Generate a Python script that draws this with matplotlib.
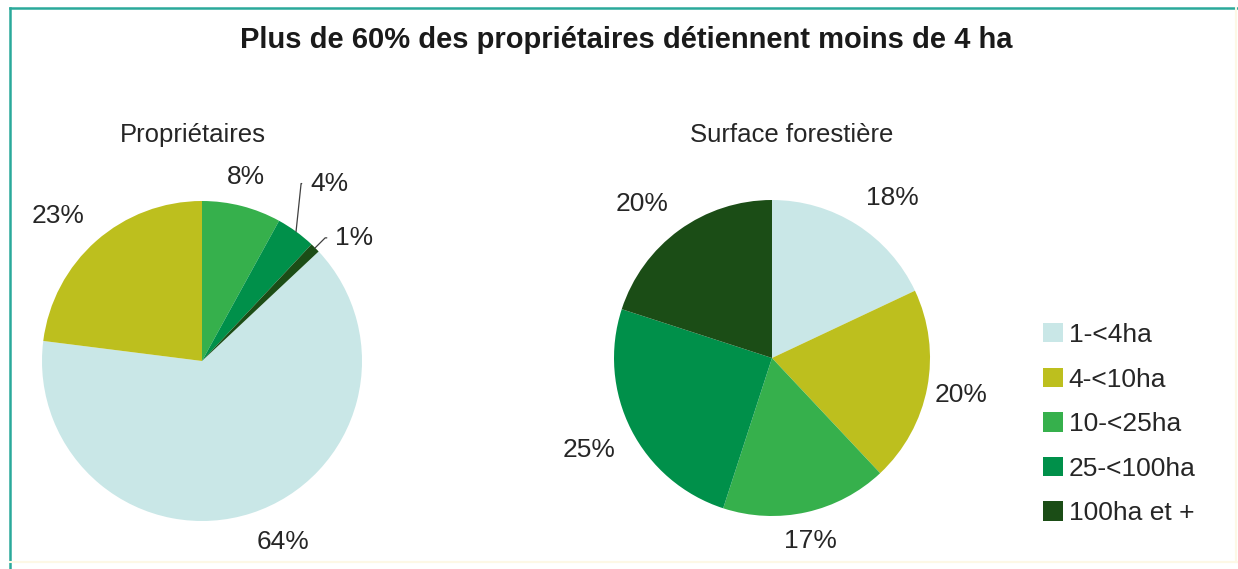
import matplotlib.pyplot as plt
import numpy as np
from matplotlib.lines import Line2D

plt.rcParams['font.family'] = ['Liberation Sans', 'DejaVu Sans']

W, H = 1238, 569

CATEGORIES = ['1-<4ha', '4-<10ha', '10-<25ha', '25-<100ha', '100ha et +']
COLORS = ['#c9e7e7', '#bdbf1e', '#36b04c', '#00904a', '#1b4d16']

PROPRIETAIRES = [64, 23, 8, 4, 1]
SURFACE = [18, 20, 17, 25, 20]

TITLE = 'Plus de 60% des propriétaires détiennent moins de 4 ha'
SUBTITLES = ['Propriétaires', 'Surface forestière']

TXT = '#262626'
FS = 19

fig = plt.figure(figsize=(W / 100, H / 100), dpi=100)
fig.patch.set_facecolor('white')


def pie_axes(cx, cy, half=240):
    # square axes centred on (cx, cy) in pixels, radius 1 -> 160 px
    ax = fig.add_axes([(cx - half) / W, (H - cy - half) / H, 2 * half / W, 2 * half / H])
    ax.axis('off')
    return ax


def fix_limits(ax):
    # pie() resets the limits, put them back so radius 1 = 160 px
    ax.set_xlim(-1.5, 1.5)
    ax.set_ylim(-1.5, 1.5)
    ax.set_aspect('equal')


def outside_labels(ax, wedges, vals, radius, skip=()):
    for i, (w, v) in enumerate(zip(wedges, vals)):
        if i in skip:
            continue
        mid = np.deg2rad((w.theta1 + w.theta2) / 2)
        c, s = np.cos(mid), np.sin(mid)
        ha = 'left' if c > 0.3 else ('right' if c < -0.3 else 'center')
        va = 'bottom' if s > 0.3 else ('top' if s < -0.3 else 'center')
        if va == 'center':
            d, dy = radius * 1.05, -0.04
        else:
            d, dy = radius * 1.11, 0
        ax.text(d * c, d * s + dy, f'{v}%', ha=ha, va=va,
                fontsize=FS, color=TXT, clip_on=False)


# left pie: small classes sit just right of 12 o'clock
ax1 = pie_axes(202, 361)
start1 = 90 - 3.6 * sum(PROPRIETAIRES[2:])
w1, _ = ax1.pie(PROPRIETAIRES, colors=COLORS, startangle=start1, counterclock=False,
                radius=1.0, wedgeprops=dict(linewidth=0))
fix_limits(ax1)
outside_labels(ax1, w1, PROPRIETAIRES, 1.0, skip=(3, 4))

# leader lines for the two thin slices
for i, off, angB in [(3, (14, 48), 84), (4, (20, 10), 45)]:
    w = w1[i]
    mid = np.deg2rad((w.theta1 + w.theta2) / 2)
    ax1.annotate(f'{PROPRIETAIRES[i]}%', xy=(np.cos(mid), np.sin(mid)),
                 xytext=off, textcoords='offset pixels', ha='left', va='center',
                 fontsize=FS, color=TXT,
                 arrowprops=dict(arrowstyle='-', color='#404040', lw=0.9,
                                 connectionstyle=f'angle,angleA=0,angleB={angB},rad=0',
                                 relpos=(0, 0.5), shrinkA=4, shrinkB=0))

# right pie
ax2 = pie_axes(772, 358)
r2 = 158 / 160
w2, _ = ax2.pie(SURFACE, colors=COLORS, startangle=90, counterclock=False,
                radius=r2, wedgeprops=dict(linewidth=0))
fix_limits(ax2)
outside_labels(ax2, w2, SURFACE, r2)

fig.text(626 / W, 1 - 40 / H, TITLE, ha='center', va='center', fontsize=21,
         fontweight='bold', color='#1a1a1a')
fig.text(193 / W, 1 - 135 / H, SUBTITLES[0], ha='center', va='center', fontsize=18.5, color=TXT)
fig.text(792 / W, 1 - 135 / H, SUBTITLES[1], ha='center', va='center', fontsize=18.5, color=TXT)

leg = fig.legend(w2, CATEGORIES, loc='upper left', bbox_to_anchor=(1043 / W, 1 - 323 / H),
                 frameon=False, fontsize=FS, handlelength=0.75, handleheight=0.75,
                 handletextpad=0.22, labelspacing=0.78, borderpad=0, borderaxespad=0)
for t in leg.get_texts():
    t.set_color(TXT)

# frame: teal on top and left, faint cream on the other sides
fig.add_artist(Line2D([10 / W, 1], [1 - 8 / H, 1 - 8 / H], color='#2aa99b', lw=1.8))
fig.add_artist(Line2D([10 / W, 10 / W], [0, 1 - 8 / H], color='#2aa99b', lw=1.8))
fig.add_artist(Line2D([10 / W, 1], [7 / H, 7 / H], color='#fdf8e6', lw=1.5))
fig.add_artist(Line2D([1236 / W, 1236 / W], [7 / H, 1 - 8 / H], color='#fdf8e6', lw=1.5))

fig.savefig('out.png', dpi=100)
